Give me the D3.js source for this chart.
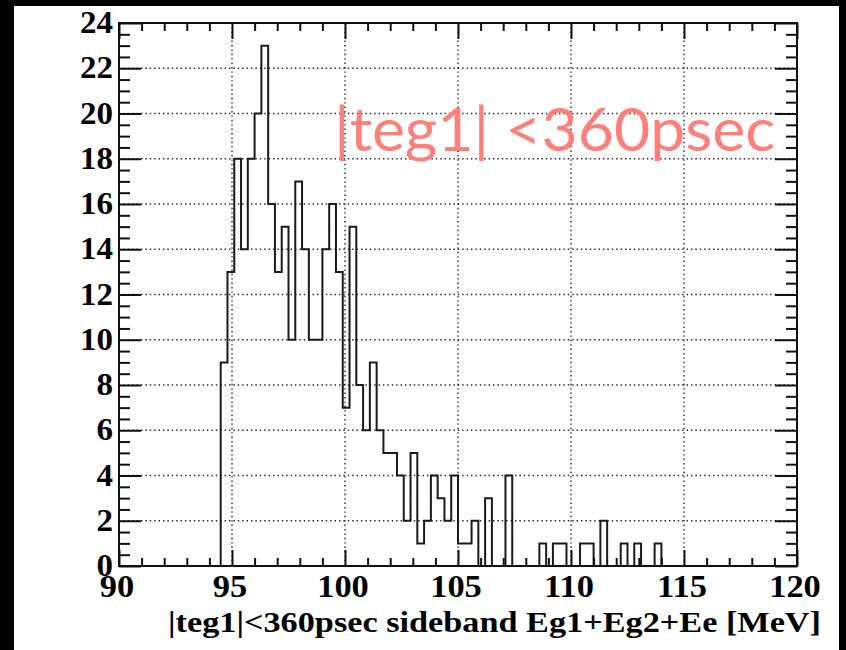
<!DOCTYPE html>
<html><head><meta charset="utf-8">
<script src="https://cdn.jsdelivr.net/npm/d3@7"></script>
<style>html,body{margin:0;padding:0;background:#000;} svg{display:block}</style>
</head><body>
<svg id="chart" width="846" height="650"></svg>
<script>
// ---- data ----
const binStart = 90;
const binWidth = 0.3;
const counts = [
  0,0,0,0,0,0,0,0,0,0,
  0,0,0,0,0,9,13,18,14,18,
  20,23,16,13,15,10,17,14,10,10,
  14,16,13,7,15,8,6,9,6,5,
  5,4,2,5,1,2,4,3,2,4,
  1,1,2,0,3,0,0,4,0,0,
  0,0,1,0,1,1,0,0,1,1,
  0,2,0,0,1,0,1,0,0,1,
  0,0,0,0,0,0,0,0,0,0,
  0,0,0,0,0,0,0,0,0,0
];
const xMajor = [90, 95, 100, 105, 110, 115, 120];
const xMinor = [91,92,93,94,96,97,98,99,101,102,103,104,106,107,108,109,111,112,113,114,116,117,118,119];
const yMajor = [0, 2, 4, 6, 8, 10, 12, 14, 16, 18, 20, 22, 24];
const yMinor = [0.5,1,1.5,2.5,3,3.5,4.5,5,5.5,6.5,7,7.5,8.5,9,9.5,10.5,11,11.5,12.5,13,13.5,14.5,15,15.5,16.5,17,17.5,18.5,19,19.5,20.5,21,21.5,22.5,23,23.5];
const xGrid = [95, 100, 105, 110, 115];
const yGrid = [2, 4, 6, 8, 10, 12, 14, 16, 18, 20, 22];
const labelText = "|teg1| <360psec";
const xTitle = "|teg1|<360psec sideband Eg1+Eg2+Ee [MeV]";

// ---- layout ----
const L = 119, R = 797, T = 23, B = 566;
const svg = d3.select("#chart");
svg.append("rect").attr("x", 14).attr("y", 6).attr("width", 825).attr("height", 644).attr("fill", "#fff");

const x = d3.scaleLinear().domain([90, 120]).range([L, R]);
const y = d3.scaleLinear().domain([0, 24]).range([B, T]);

// grid
const grid = svg.append("g").attr("stroke", "#222").attr("stroke-width", 1.4).attr("stroke-dasharray", "1.4 3");
grid.selectAll("line.gx").data(xGrid).join("line").attr("class","gx")
  .attr("x1", d => x(d)).attr("x2", d => x(d)).attr("y1", T).attr("y2", B);
grid.selectAll("line.gy").data(yGrid).join("line").attr("class","gy")
  .attr("y1", d => y(d)).attr("y2", d => y(d)).attr("x1", L).attr("x2", R);

// histogram
let d = `M${x(binStart)},${y(0)}`;
counts.forEach((c, i) => {
  d += `V${y(c)}H${x(binStart + (i + 1) * binWidth)}`;
});
d += `V${y(0)}`;
svg.append("path").attr("d", d).attr("fill", "none").attr("stroke", "#1a1a1a").attr("stroke-width", 2);

// axes ticks (inward, mirrored)
function styleAxis(g) {
  g.select(".domain").remove();
  g.selectAll("line").attr("stroke", "#111").attr("stroke-width", 2);
}
svg.append("g").attr("transform", `translate(0,${B})`)
  .call(d3.axisBottom(x).tickValues(xMajor).tickSize(-16).tickFormat("")).call(styleAxis);
svg.append("g").attr("transform", `translate(0,${B})`)
  .call(d3.axisBottom(x).tickValues(xMinor).tickSize(-8).tickFormat("")).call(styleAxis);
svg.append("g").attr("transform", `translate(0,${T})`)
  .call(d3.axisTop(x).tickValues(xMajor).tickSize(-16).tickFormat("")).call(styleAxis);
svg.append("g").attr("transform", `translate(0,${T})`)
  .call(d3.axisTop(x).tickValues(xMinor).tickSize(-8).tickFormat("")).call(styleAxis);
svg.append("g").attr("transform", `translate(${L},0)`)
  .call(d3.axisLeft(y).tickValues(yMajor).tickSize(-22).tickFormat("")).call(styleAxis);
svg.append("g").attr("transform", `translate(${L},0)`)
  .call(d3.axisLeft(y).tickValues(yMinor).tickSize(-11).tickFormat("")).call(styleAxis);
svg.append("g").attr("transform", `translate(${R},0)`)
  .call(d3.axisRight(y).tickValues(yMajor).tickSize(-22).tickFormat("")).call(styleAxis);
svg.append("g").attr("transform", `translate(${R},0)`)
  .call(d3.axisRight(y).tickValues(yMinor).tickSize(-11).tickFormat("")).call(styleAxis);

// frame
svg.append("rect").attr("x", L).attr("y", T).attr("width", R - L).attr("height", B - T)
  .attr("fill", "none").attr("stroke", "#111").attr("stroke-width", 2);

// tick labels
const font = "'Liberation Serif', 'Times New Roman', Times, serif";
svg.append("g").selectAll("text").data(xMajor).join("text")
  .attr("transform", v => `translate(${x(v) - 2},597) scale(1.15,1.05)`)
  .attr("text-anchor", "middle").attr("font-family", font).attr("font-weight", "bold")
  .attr("font-size", 30).attr("fill", "#000").text(v => v);
svg.append("g").selectAll("text").data(yMajor).join("text")
  .attr("transform", v => `translate(113,${y(v) + 10}) scale(1.1,1.05)`)
  .attr("text-anchor", "end").attr("font-family", font).attr("font-weight", "bold")
  .attr("font-size", 30).attr("fill", "#000").text(v => v);

// x title
svg.append("text").attr("x", 168).attr("y", 632)
  .attr("font-family", font).attr("font-weight", "bold").attr("font-size", 30)
  .attr("textLength", 653).attr("lengthAdjust", "spacingAndGlyphs")
  .attr("fill", "#000").text(xTitle);

// in-plot label
svg.append("text").attr("x", 334).attr("y", 151)
  .attr("font-family", "Lato, 'Open Sans', sans-serif").attr("font-weight", 400).attr("font-size", 60)
  .attr("textLength", 441).attr("lengthAdjust", "spacingAndGlyphs")
  .attr("fill", "#ff7f7b").text(labelText);
</script>
</body></html>
